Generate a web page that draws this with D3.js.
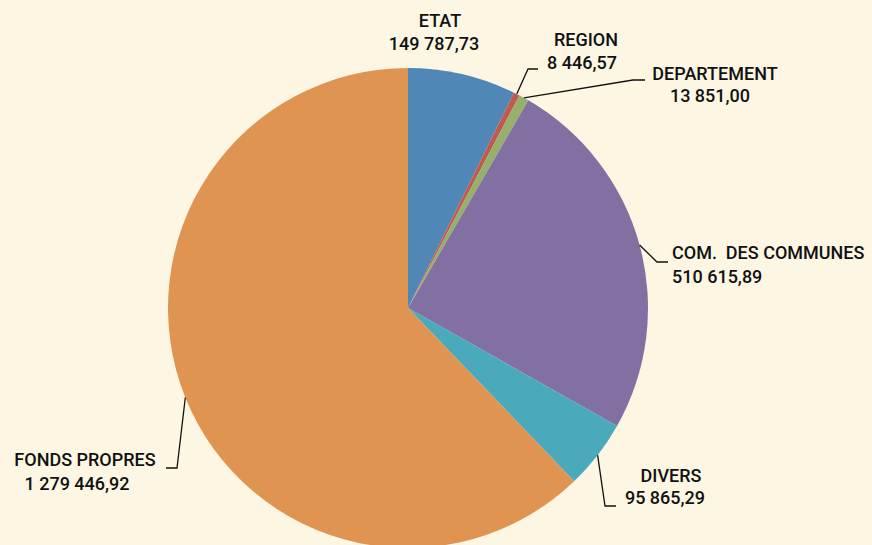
<!DOCTYPE html>
<html>
<head>
<meta charset="utf-8">
<script src="https://d3js.org/d3.v7.min.js"></script>
<style>
  body { margin: 0; background: #fcf6e3; }
  svg { display: block; }
  .lbl { font-family: Roboto, sans-serif; font-weight: 500; font-size: 18px; fill: #111; }
</style>
</head>
<body>
<script>
// data
var categories = ["ETAT", "REGION", "DEPARTEMENT", "COM.\u00a0 DES COMMUNES", "DIVERS", "FONDS PROPRES"];
var amounts = [149787.73, 8446.57, 13851.00, 510615.89, 95865.29, 1279446.92];
var amountLabels = ["149 787,73", "8 446,57", "13 851,00", "510 615,89", "95 865,29", "1 279 446,92"];
var colors = ["#5187b6", "#bf5a52", "#95b06a", "#8270a3", "#4aa9bb", "#df9452"];

// label placement: name / value positions, elbow and end of leader line
var labelPos = [
  {nx: 440, ny: 27, vx: 434, vy: 50, anchor: "middle", line: null},
  {nx: 586, ny: 46, vx: 582, vy: 69, anchor: "middle", line: [[528, 69], [538, 69]]},
  {nx: 715, ny: 80, vx: 710, vy: 102, anchor: "middle", line: [[633, 80], [645, 80]]},
  {nx: 672, ny: 259, vx: 672, vy: 283, anchor: "start", line: [[657, 262], [668, 262]]},
  {nx: 671, ny: 482, vx: 665, vy: 504, anchor: "middle", line: [[605, 506], [616, 506]]},
  {nx: 85, ny: 466, vx: 77, vy: 490, anchor: "middle", line: [[177, 468], [166, 468]]}
];

var width = 872, height = 545;
var cx = 408, cy = 308, r = 240;

var svg = d3.select("body").append("svg")
  .attr("width", width)
  .attr("height", height);

svg.append("rect").attr("width", width).attr("height", height).attr("fill", "#fcf6e3");

var pie = d3.pie().sort(null).value(function (d) { return d; });
var arcs = pie(amounts);
var arc = d3.arc().innerRadius(0).outerRadius(r);

var g = svg.append("g").attr("transform", "translate(" + cx + "," + cy + ")");

g.selectAll("path.slice")
  .data(arcs)
  .enter()
  .append("path")
  .attr("class", "slice")
  .attr("d", arc)
  .attr("fill", function (d, i) { return colors[i]; });

// leader lines from arc edge
arcs.forEach(function (a, i) {
  var p = labelPos[i];
  if (!p.line) return;
  var mid = (a.startAngle + a.endAngle) / 2;
  var start = [cx + r * Math.sin(mid), cy - r * Math.cos(mid)];
  svg.append("path")
    .attr("d", d3.line()([start, p.line[0], p.line[1]]))
    .attr("fill", "none")
    .attr("stroke", "#111")
    .attr("stroke-width", 1.3);
});

// labels
categories.forEach(function (c, i) {
  var p = labelPos[i];
  svg.append("text").attr("class", "lbl")
    .attr("x", p.nx).attr("y", p.ny)
    .attr("text-anchor", p.anchor)
    .text(c);
  svg.append("text").attr("class", "lbl")
    .attr("x", p.vx).attr("y", p.vy)
    .attr("text-anchor", p.anchor)
    .text(amountLabels[i]);
});
</script>
</body>
</html>
